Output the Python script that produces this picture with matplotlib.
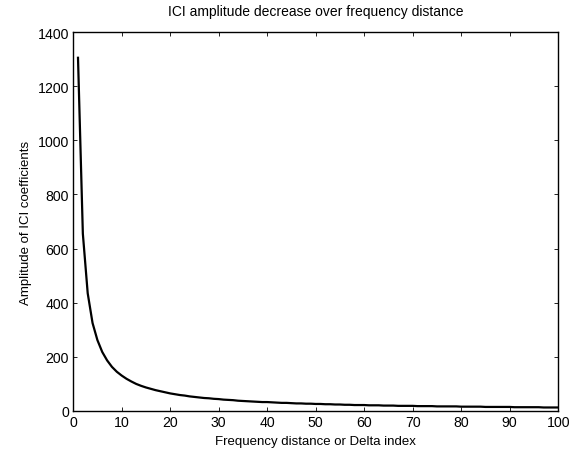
import matplotlib
matplotlib.use("Agg")
import matplotlib.pyplot as plt

plt.rcParams['font.family'] = ['Liberation Sans', 'DejaVu Sans']

delta_index = list(range(1, 101))
ici_amplitude = [
    1305, 655, 435, 325, 262, 218, 187, 163, 145, 131,
    119, 109, 100, 93, 87, 82, 77, 73, 69, 65,
    62, 59, 57, 54, 52, 50, 48, 47, 45, 44,
    42, 41, 40, 38, 37, 36, 35, 34, 33, 33,
    32, 31, 30, 30, 29, 28, 28, 27, 27, 26,
    26, 25, 25, 24, 24, 23, 23, 22, 22, 22,
    21, 21, 21, 20, 20, 20, 19, 19, 19, 19,
    18, 18, 18, 18, 17, 17, 17, 17, 17, 16,
    16, 16, 16, 16, 15, 15, 15, 15, 15, 15,
    14, 14, 14, 14, 14, 14, 13, 13, 13, 13,
]
x_ticks = list(range(0, 101, 10))
y_ticks = list(range(0, 1401, 200))

fig = plt.figure(figsize=(5.76, 4.56), dpi=100)
ax = fig.add_axes([0.127, 0.0965, 0.842, 0.831])
ax.plot(delta_index, ici_amplitude, color="black", linewidth=1.6)
ax.set_xlim(0, 100)
ax.set_ylim(0, 1400)
ax.set_xticks(x_ticks)
ax.set_yticks(y_ticks)
ax.tick_params(direction="in", top=True, right=True, labelsize=10.2, length=3, width=0.6, pad=3)
for s in ax.spines.values():
    s.set_linewidth(1.0)
ax.set_title("ICI amplitude decrease over frequency distance", fontsize=10, pad=12)
ax.set_xlabel("Frequency distance or Delta index", fontsize=9.5, labelpad=4)
ax.set_ylabel("Amplitude of ICI coefficients", fontsize=9.5, labelpad=4)

fig.savefig("out.png", dpi=100)
